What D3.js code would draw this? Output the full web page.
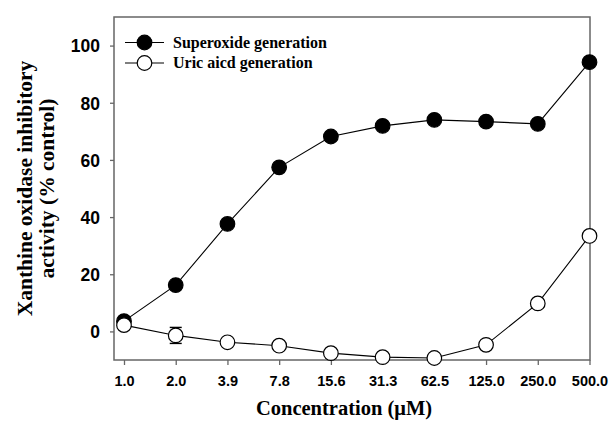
<!DOCTYPE html>
<html>
<head>
<meta charset="utf-8">
<script src="https://cdn.jsdelivr.net/npm/d3@7"></script>
<style>
  body { margin: 0; background: #fff; }
  .tick text { font-family: 'Liberation Sans', Arial, sans-serif; font-weight: bold; fill: #000; }
  .serif { font-family: 'Liberation Serif', 'Times New Roman', serif; font-weight: bold; fill: #000; }
</style>
</head>
<body>
<div id="graph"></div>
<script>
// chart values
var concLabels = ['1.0', '2.0', '3.9', '7.8', '15.6', '31.3', '62.5', '125.0', '250.0', '500.0'];
var superoxide = [3.6, 16.2, 37.6, 57.4, 68.2, 71.9, 74.0, 73.4, 72.6, 94.2];
var superoxideErr = [0, 0, 0, 0, 0, 0, 0, 0, 0, 0];
var uricAcid = [2.2, -1.4, -3.8, -5.0, -7.6, -9.0, -9.3, -4.7, 9.8, 33.4];
var uricAcidErr = [0, 2.8, 0, 0, 0, 0, 0, 0, 0, 0];
var yTicks = [0, 20, 40, 60, 80, 100];
var seriesNames = ['Superoxide generation', 'Uric aicd generation'];

var w = 610;
var h = 425;
// plot box (window.top is read-only, so not "top")
var pLeft = 114, pRight = 590, pTop = 17, pBottom = 360;

var svg = d3
  .select('#graph')
  .append('svg')
  .attr('width', w)
  .attr('height', h);

var xscale = d3
  .scalePoint()
  .domain(concLabels)
  .range([pLeft + 10, pRight - 0.5]);

var yscale = d3
  .scaleLinear()
  .domain([-10, 110])
  .range([pBottom, pTop]);

var x_axis = d3.axisBottom(xscale).tickSizeInner(5).tickSizeOuter(0).tickPadding(11);
var y_axis = d3.axisLeft(yscale).tickValues(yTicks).tickSizeInner(4).tickSizeOuter(0).tickPadding(10);

var gx = svg
  .append('g')
  .attr('transform', 'translate(0,' + pBottom + ')')
  .call(x_axis);
gx.select('.domain').remove();
gx.selectAll('line').attr('stroke', '#666').attr('stroke-width', 1.3);
gx.selectAll('text').attr('font-size', 14.5);

var gy = svg
  .append('g')
  .attr('transform', 'translate(' + pLeft + ',0)')
  .call(y_axis);
gy.select('.domain').remove();
gy.selectAll('line').attr('stroke', '#666').attr('stroke-width', 1.3);
gy.selectAll('text').attr('font-size', 17.5).attr('dy', '0.36em');

// frame
svg
  .append('rect')
  .attr('x', pLeft)
  .attr('y', pTop)
  .attr('width', pRight - pLeft)
  .attr('height', pBottom - pTop)
  .attr('fill', 'none')
  .attr('stroke', '#666')
  .attr('stroke-width', 1.5);

var line = d3
  .line()
  .x(function(d, i) { return xscale(concLabels[i]); })
  .y(function(d) { return yscale(d); });

function drawSeries(values, errs, fill) {
  svg
    .append('path')
    .datum(values)
    .attr('d', line)
    .attr('fill', 'none')
    .attr('stroke', '#000')
    .attr('stroke-width', 1.1);

  var eb = svg.append('g');
  values.forEach(function(v, i) {
    if (!errs[i]) return;
    var cx = xscale(concLabels[i]);
    eb.append('line')
      .attr('x1', cx).attr('x2', cx)
      .attr('y1', yscale(v - errs[i])).attr('y2', yscale(v + errs[i]))
      .attr('stroke', '#000').attr('stroke-width', 1.2);
    [v - errs[i], v + errs[i]].forEach(function(e) {
      eb.append('line')
        .attr('x1', cx - 6).attr('x2', cx + 6)
        .attr('y1', yscale(e)).attr('y2', yscale(e))
        .attr('stroke', '#000').attr('stroke-width', 1.4);
    });
  });

  svg
    .append('g')
    .selectAll('circle')
    .data(values)
    .enter()
    .append('circle')
    .attr('cx', function(d, i) { return xscale(concLabels[i]); })
    .attr('cy', function(d) { return yscale(d); })
    .attr('r', 7.3)
    .attr('fill', fill)
    .attr('stroke', '#000')
    .attr('stroke-width', 1.2);
}

drawSeries(superoxide, superoxideErr, '#000');
drawSeries(uricAcid, uricAcidErr, '#fff');

// legend
var legend = svg.append('g').attr('transform', 'translate(125,42.5)');
var legendFills = ['#000', '#fff'];
seriesNames.forEach(function(name, i) {
  var g = legend.append('g').attr('transform', 'translate(0,' + i * 20.5 + ')');
  g.append('line')
    .attr('x1', 0).attr('x2', 39)
    .attr('stroke', '#000').attr('stroke-width', 1.1);
  g.append('circle')
    .attr('cx', 19.5).attr('r', 7.3)
    .attr('fill', legendFills[i])
    .attr('stroke', '#000').attr('stroke-width', 1.2);
  g.append('text')
    .attr('class', 'serif')
    .attr('x', 48)
    .attr('dy', '0.33em')
    .attr('font-size', 16)
    .text(name);
});

// axis titles
svg
  .append('text')
  .attr('class', 'serif')
  .attr('x', 344)
  .attr('y', 415)
  .attr('text-anchor', 'middle')
  .attr('font-size', 20.5)
  .text('Concentration (\u03bcM)');

var ytitle = svg
  .append('text')
  .attr('class', 'serif')
  .attr('transform', 'translate(0,' + (pTop + pBottom) / 2 + ') rotate(-90)')
  .attr('text-anchor', 'middle')
  .attr('font-size', 21.5);
ytitle.append('tspan').attr('x', 0).attr('y', 32).text('Xanthine oxidase inhibitory');
ytitle.append('tspan').attr('x', 0).attr('y', 54).text('activity (% control)');
</script>
</body>
</html>
